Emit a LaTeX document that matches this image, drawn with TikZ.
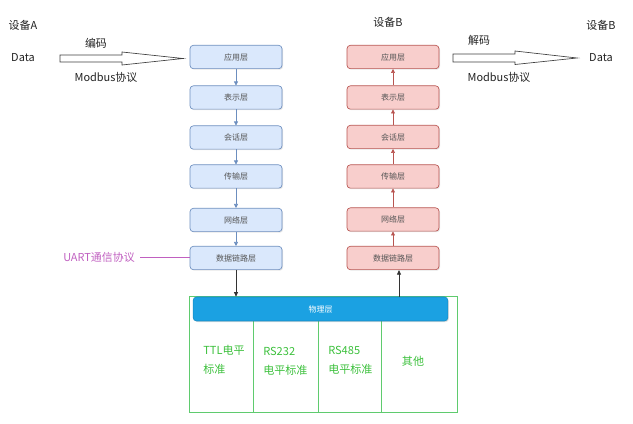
\documentclass[tikz,border=0pt]{standalone}
\usepackage{fontspec}
\setmainfont{Noto Sans CJK SC}
\usetikzlibrary{shadows,arrows.meta}
\definecolor{bluefill}{HTML}{DAE8FC}
\definecolor{bluestroke}{HTML}{6C8EBF}
\definecolor{redfill}{HTML}{F8CECC}
\definecolor{redstroke}{HTML}{B85450}
\definecolor{physblue}{HTML}{1BA1E2}
\definecolor{gline}{HTML}{5FCB6E}
\definecolor{gtext}{HTML}{3CC03C}
\definecolor{uartc}{HTML}{C060C0}
\definecolor{txt}{HTML}{222222}
\definecolor{laytxt}{HTML}{555555}
\tikzset{
  layer/.style={rounded corners=2.5pt, minimum width=69pt, minimum height=17.5pt, inner sep=0pt,
    font=\fontsize{6}{7}\selectfont, text=laytxt, line width=0.5pt,
    drop shadow={shadow xshift=0.8pt,shadow yshift=-0.8pt,opacity=0.2}},
  blayer/.style={layer, draw=bluestroke, fill=bluefill},
  rlayer/.style={layer, draw=redstroke, fill=redfill},
  lbl/.style={font=\fontsize{8.2}{10}\selectfont, text=txt, inner sep=0pt},
  glbl/.style={font=\fontsize{8.3}{10}\selectfont, text=gtext, inner sep=0pt, anchor=west},
  barr/.style={draw=bluestroke, line width=0.5pt, -{Triangle[length=3pt,width=3pt]}},
  rarr/.style={draw=redstroke, line width=0.5pt, -{Triangle[length=3pt,width=3pt]}},
  karr/.style={draw=black!80, line width=0.6pt, -{Triangle[length=3.5pt,width=3pt]}},
  hollow/.style={draw=black!75, fill=white, line width=0.5pt},
  gframe/.style={draw=gline, line width=0.75pt},
}
\begin{document}
\begin{tikzpicture}[x=0.75pt,y=-0.75pt]
\useasboundingbox (0,0) rectangle (633,424);
% left stack
\node[blayer] (l1) at (236,57) {应用层};
\node[blayer] (l2) at (236,97.5) {表示层};
\node[blayer] (l3) at (236,137.5) {会话层};
\node[blayer] (l4) at (236,176.5) {传输层};
\node[blayer] (l5) at (236,220) {网络层};
\node[blayer] (l6) at (236,258) {数据链路层};
% right stack
\node[rlayer] (r1) at (393,57) {应用层};
\node[rlayer] (r2) at (393,97.5) {表示层};
\node[rlayer] (r3) at (393,137) {会话层};
\node[rlayer] (r4) at (393,176.5) {传输层};
\node[rlayer] (r5) at (393,219.5) {网络层};
\node[rlayer] (r6) at (393,258) {数据链路层};
\draw[barr] (l1) -- (l2);
\draw[barr] (l2) -- (l3);
\draw[barr] (l3) -- (l4);
\draw[barr] (l4) -- (l5);
\draw[barr] (l5) -- (l6);
\draw[rarr] (r2) -- (r1);
\draw[rarr] (r3) -- (r2);
\draw[rarr] (r4) -- (r3);
\draw[rarr] (r5) -- (r4);
\draw[rarr] (r6) -- (r5);
% physical layer
\coordinate (gtl) at (189,297);
\coordinate (gbr) at (457,413);
\draw[gframe] (gtl) rectangle (gbr);
\coordinate (d1t) at (253,321); \coordinate (d1b) at (253,413);
\coordinate (d2t) at (318,321); \coordinate (d2b) at (318,413);
\coordinate (d3t) at (381,321); \coordinate (d3b) at (381,413);
\draw[gframe] (d1t) -- (d1b) (d2t) -- (d2b) (d3t) -- (d3b);
\node[rounded corners=2.5pt, fill=physblue, draw=physblue!85!black, line width=0.4pt,
  minimum width=191pt, minimum height=18pt, inner sep=0pt,
  font=\fontsize{6}{7}\selectfont, text=white,
  drop shadow={shadow xshift=0.8pt,shadow yshift=-0.8pt,opacity=0.25}] (phys) at (320.5,309) {物理层};
\draw[karr] (l6.south) -- (l6.south |- phys.north);
\coordinate (rup) at (399,297);
\draw[karr] (rup) -- (rup |- r6.south);
% green labels
\node[glbl] (t1) at (203,350) {TTL电平};
\node[glbl] (t2) at (203,369) {标准};
\node[glbl] (t3) at (263,351) {RS232};
\node[glbl] (t4) at (263,370) {电平标准};
\node[glbl] (t5) at (328,350) {RS485};
\node[glbl] (t6) at (328,369) {电平标准};
\node[glbl, anchor=center] (t7) at (413,361) {其他};
% UART
\node[font=\fontsize{8.2}{10}\selectfont, text=uartc, inner sep=0pt] (uart) at (99,257) {UART通信协议};
\coordinate (uend) at (140,257);
\draw[draw=uartc, line width=0.6pt] (uend) -- (uend -| l6.west);
% top labels
\node[lbl] (devA) at (23,25) {设备A};
\node[lbl] (enc) at (96,43) {编码};
\node[lbl] (dataL) at (23,58) {Data};
\node[lbl] (modL) at (106,77) {Modbus协议};
\node[lbl] (devB) at (388,22) {设备B};
\node[lbl] (devB2) at (601,25) {设备B};
\node[lbl] (dec) at (479,40) {解码};
\node[lbl] (dataR) at (601,58) {Data};
\node[lbl] (modR) at (499,77) {Modbus协议};
% hollow arrows
\draw[hollow] (60,55) -- (122,55) -- (122,52) -- (183,58.5) -- (122,65) -- (122,62) -- (60,62) -- cycle;
\draw[hollow] (453,54) -- (515,54) -- (515,51) -- (577,58) -- (515,64.5) -- (515,62) -- (453,62) -- cycle;
\end{tikzpicture}
\end{document}
